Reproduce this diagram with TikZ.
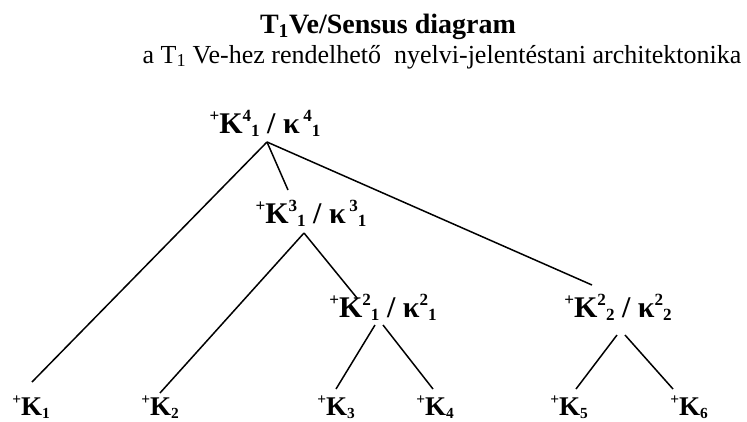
\documentclass[tikz,border=0pt]{standalone}
\usepackage{fontspec}
\setmainfont{Liberation Serif}
\usetikzlibrary{calc}
% small raised / lowered figures, sized from the current font
\newcommand\hi[1]{\raisebox{.4em}{\fontsize{\dimexpr.57\fontdimen6\font\relax}{0pt}\selectfont #1}}
\newcommand\lo[1]{\raisebox{-.12em}{\fontsize{\dimexpr.57\fontdimen6\font\relax}{0pt}\selectfont #1}}

\begin{document}
\begin{tikzpicture}[x=1pt,y=-1pt,line width=1.5pt,
    lab/.style={anchor=base,inner sep=0pt,font=\fontsize{30}{34}\selectfont\bfseries},
    leaf/.style={anchor=base,inner sep=0pt,font=\fontsize{27}{30}\selectfont\bfseries}]
  \useasboundingbox (0,0) rectangle (747,421);
  % headings
  \node[anchor=base,font=\fontsize{28}{32}\selectfont\bfseries] (title) at (388,33) {T\textsubscript{1}Ve/Sensus diagram};
  \node[anchor=base,font=\fontsize{26}{30}\selectfont] (subtitle) at (442,63) {a T\textsubscript{1} Ve-hez rendelhető\ \ nyelvi-jelentéstani architektonika};
  % inner nodes
  \node[lab] (k41) at (265,133) {\hi{+}K\hi{4}\lo{1} / κ\hspace{.12em}\hi{4}\lo{1}};
  \node[lab] (k31) at (311,223) {\hi{+}K\hi{3}\lo{1} / κ\hspace{.12em}\hi{3}\lo{1}};
  \node[lab] (k21) at (383,317) {\hi{+}K\hi{2}\lo{1} / κ\hi{2}\lo{1}};
  \node[lab] (k22) at (618,317) {\hi{+}K\hi{2}\lo{2} / κ\hi{2}\lo{2}};
  % leaves
  \node[leaf] (K1) at (31,415) {\hi{+}K\lo{1}};
  \node[leaf] (K2) at (160,415) {\hi{+}K\lo{2}};
  \node[leaf] (K3) at (336,415) {\hi{+}K\lo{3}};
  \node[leaf] (K4) at (435,415) {\hi{+}K\lo{4}};
  \node[leaf] (K5) at (569,415) {\hi{+}K\lo{5}};
  \node[leaf] (K6) at (689,415) {\hi{+}K\lo{6}};
  % branches
  \draw ($(k41.base)+(2,9)$) -- ($(K1.base)+(1,-33)$);
  \draw ($(k41.base)+(2,9)$) -- ($(k31.base)+(-23,-33)$);
  \draw ($(k41.base)+(2,9)$) -- ($(k22.base)+(-26,-32)$);
  \draw ($(k31.base)+(-7,10)$) -- ($(K2.base)+(0,-22)$);
  \draw ($(k31.base)+(-7,10)$) -- ($(k21.base)+(-26,-19)$);
  \draw ($(k21.base)+(-8,8)$) -- ($(K3.base)+(0,-26)$);
  \draw ($(k21.base)+(0,8)$) -- ($(K4.base)+(-2,-26)$);
  \draw ($(k22.base)+(-1,18)$) -- ($(K5.base)+(7,-26)$);
  \draw ($(k22.base)+(7,18)$) -- ($(K6.base)+(-16,-26)$);
\end{tikzpicture}
\end{document}
